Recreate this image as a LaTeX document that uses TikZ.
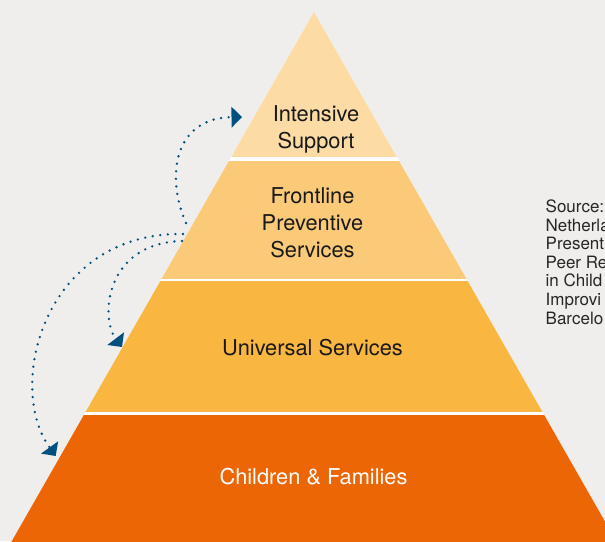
\documentclass[tikz,border=0pt]{standalone}
\usepackage{fontspec}
\setmainfont{TeX Gyre Heros}
\usetikzlibrary{arrows.meta}

\definecolor{paper}{HTML}{EFEEEC}
\definecolor{tierone}{HTML}{FCDBA5}
\definecolor{tiertwo}{HTML}{FBCA78}
\definecolor{tierthree}{HTML}{F9B641}
\definecolor{tierfour}{HTML}{EC6605}
\definecolor{flow}{HTML}{00507F}

\tikzset{
    tier/.style={inner sep=0pt, align=center, text=black!90, font=\fontsize{21.8}{27}\selectfont},
    source/.style={inner sep=0pt, anchor=north west, align=left, text=black!85, font=\fontsize{17}{18.6}\selectfont},
    flowline/.style={flow, line width=2.6pt, line cap=round, dash pattern=on 0pt off 7.6pt,
        -{Triangle[length=10.5pt, width=21pt, line width=0pt]}}
}

\begin{document}
\begin{tikzpicture}[x=1pt, y=-1pt]
            {
    \def\pyramid{(314,12) -- (627,560) -- (1,560) -- cycle}

    \fill[paper] (0,0) rectangle (605,541);
    \clip (0,0) rectangle (605,541);

    \fill[white] \pyramid;
    \foreach \top/\bottom/\tone in {0/156/tierone, 161.5/278/tiertwo, 281/411/tierthree, 415/560/tierfour}
    {
        \begin{scope}
            \clip (0,\top) rectangle (605,\bottom);
            \fill[\tone] \pyramid;
        \end{scope}
    }

    \node[tier] (intensive) at (316,129) {Intensive\\Support};
    \node[tier] (frontline) at (312.5,222.5) {Frontline\\Preventive\\Services};
    \node[tier] (universal) at (312.5,347.5) {Universal Services};
    \node[tier, text=white] (families) at (313.5,476.5) {Children \& Families};
    \node[source] (source) at (545.5,199.5) {Source:\\Netherla\\Present\\Peer Re\\in Child\\Improvi\\Barcelo};

    \coordinate (upfrom) at (186,223);
    \coordinate (upto) at (242,117);
    \coordinate (midfrom) at (182,241);
    \coordinate (midto) at (122,347);
    \coordinate (lowfrom) at (183,234);
    \coordinate (lowto) at (55.7,456);

    \draw[flowline] (upfrom) .. controls (165,175) and (175,118) .. (upto);
    \draw[flowline] (midfrom) .. controls (105,243) and (100,318) .. (midto);
    \draw[flowline] (lowfrom) .. controls (45,232) and (5,385) .. (lowto);
}
\end{tikzpicture}
\end{document}
